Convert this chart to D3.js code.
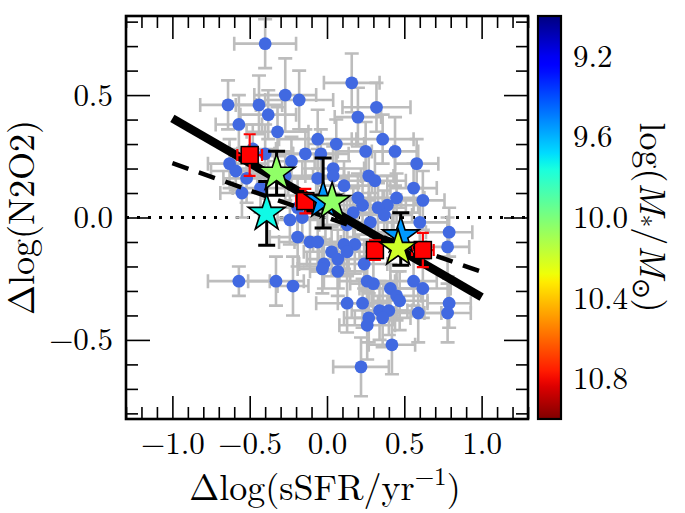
<!DOCTYPE html>
<html>
<head>
<meta charset="utf-8">
<script src="https://cdn.jsdelivr.net/npm/d3@7"></script>
<style>
  html, body { margin: 0; padding: 0; background: #fff; }
  svg { display: block; }
</style>
</head>
<body>
<script>
// ---------------- DATA ----------------
// individual galaxies (blue dots with grey error bars)
const galX = [-0.40,-0.64,-0.44,-0.27,-0.18,-0.38,-0.57,-0.32,-0.06,0.06,0.16,0.32,0.20,0.36,0.25,0.44,0.58,-0.14,-0.40,-0.23,
  -0.63,-0.59,-0.52,-0.43,-0.55,0.04,0.04,0.27,0.31,0.11,0.56,0.62,0.45,0.39,0.33,0.20,0.23,0.37,0.28,0.17,
  0.13,0.60,0.79,0.78,0.11,0.18,0.13,0.24,-0.19,-0.24,-0.16,-0.19,-0.11,-0.06,0.03,-0.02,0.07,0.07,-0.57,-0.33,
  -0.22,0.26,0.30,0.41,0.45,0.47,0.56,0.62,0.13,0.23,0.34,0.40,0.36,0.27,0.26,0.59,0.79,0.78,0.42,0.22,
  -0.48,-0.27,-0.06,-0.04,-0.03];
const galY = [0.71,0.46,0.46,0.50,0.48,0.42,0.38,0.35,0.32,0.30,0.55,0.45,0.41,0.32,0.27,0.27,0.22,0.26,0.26,0.23,
  0.22,0.19,0.16,0.12,0.10,0.20,0.17,0.17,0.15,0.13,0.12,0.07,0.08,0.05,0.04,0.08,0.05,0.01,-0.02,0.02,
  -0.03,-0.02,-0.06,-0.12,-0.11,-0.11,-0.14,-0.19,0.04,-0.01,0.00,-0.08,-0.10,-0.10,-0.14,-0.19,-0.17,-0.22,-0.26,-0.26,
  -0.28,-0.26,-0.27,-0.29,-0.32,-0.34,-0.26,-0.29,-0.35,-0.35,-0.38,-0.38,-0.41,-0.41,-0.44,-0.39,-0.35,-0.39,-0.52,-0.61,
  0.28,0.17,0.16,0.26,-0.21];
const galXErr = [0.20,0.18,0.15,0.20,0.22,0.18,0.15,0.20,0.25,0.18,0.18,0.22,0.15,0.20,0.18,0.15,0.14,0.20,0.18,0.15,
  0.14,0.16,0.15,0.18,0.14,0.20,0.18,0.16,0.20,0.18,0.15,0.14,0.18,0.20,0.18,0.16,0.20,0.18,0.15,0.20,
  0.18,0.18,0.15,0.14,0.20,0.16,0.18,0.15,0.18,0.20,0.16,0.18,0.20,0.15,0.18,0.16,0.20,0.18,0.20,0.18,
  0.10,0.18,0.15,0.20,0.16,0.18,0.15,0.18,0.20,0.16,0.18,0.15,0.18,0.16,0.18,0.15,0.14,0.15,0.15,0.18,
  0.15,0.18,0.20,0.18,0.16];
const galYErr = [0.10,0.10,0.12,0.15,0.12,0.10,0.12,0.10,0.12,0.10,0.12,0.10,0.12,0.10,0.12,0.14,0.10,0.10,0.12,0.10,
  0.10,0.08,0.10,0.10,0.10,0.10,0.12,0.10,0.12,0.10,0.10,0.12,0.10,0.12,0.10,0.10,0.12,0.10,0.12,0.10,
  0.10,0.08,0.10,0.12,0.10,0.12,0.10,0.10,0.12,0.10,0.10,0.12,0.10,0.12,0.10,0.10,0.12,0.10,0.06,0.10,
  0.12,0.10,0.12,0.10,0.10,0.12,0.10,0.12,0.12,0.10,0.12,0.10,0.12,0.10,0.14,0.12,0.10,0.12,0.12,0.12,
  0.10,0.10,0.12,0.10,0.10];

// binned medians (red squares)
const binX = [-0.50, -0.14, 0.31, 0.62];
const binY = [0.255, 0.067, -0.133, -0.133];
const binXErr = [0.08, 0.06, 0.05, 0.07];
const binYErr = [0.085, 0.05, 0.04, 0.07];

// stacked spectra (stars coloured by stellar mass)
const starX = [-0.025, 0.477, -0.39, -0.326, 0.033, 0.46];
const starY = [0.07, -0.075, 0.017, 0.181, 0.065, -0.126];
const starYErrUp = [0.173, 0.094, 0.13, 0.09, 0, 0];
const starYErrDown = [0.113, 0.12, 0.13, 0.09, 0, 0];
const starMass = [9.55, 9.55, 9.74, 10.05, 10.05, 10.2];

// fit lines
const fitSolid = { x: [-1.0, 1.0], y: [0.405, -0.325] };
const fitDashed = { x: [-1.0, 1.0], y: [0.222, -0.222] };

// axes / ticks
const xMajorTicks = [-1.0, -0.5, 0.0, 0.5, 1.0];
const yMajorTicks = [-0.5, 0.0, 0.5];
const cbTicks = [9.2, 9.6, 10.0, 10.4, 10.8];
const xDomain = [-1.3, 1.3];
const yDomain = [-0.823, 0.823];
const massDomain = [9.0, 11.0];

// ---------------- LAYOUT ----------------
const W = 685, H = 513;
const L = 126, R = 528, T = 16, B = 419;
const CBX = 538, CBW = 23;
const FONT = '"Latin Modern Roman", "CMU Serif", "Liberation Serif", serif';

const svg = d3.select("body").append("svg").attr("width", W).attr("height", H);

const x = d3.scaleLinear().domain(xDomain).range([L, R]);
const y = d3.scaleLinear().domain(yDomain).range([B, T]);

// jet colormap (matplotlib segment data)
const jetR = d3.scaleLinear().domain([0, 0.35, 0.66, 0.89, 1]).range([0, 0, 1, 1, 0.5]).clamp(true);
const jetG = d3.scaleLinear().domain([0, 0.125, 0.375, 0.64, 0.91, 1]).range([0, 0, 1, 1, 0, 0]).clamp(true);
const jetB = d3.scaleLinear().domain([0, 0.11, 0.34, 0.65, 1]).range([0.5, 1, 1, 0, 0]).clamp(true);
const jet = t => d3.rgb(jetR(t) * 255, jetG(t) * 255, jetB(t) * 255).formatHex();
const massNorm = d3.scaleLinear().domain(massDomain).range([0, 1]).clamp(true);
const massColor = m => jet(massNorm(m));

const defs = svg.append("defs");
defs.append("clipPath").attr("id", "clip")
  .append("rect").attr("x", L).attr("y", T).attr("width", R - L).attr("height", B - T);
const plot = svg.append("g").attr("clip-path", "url(#clip)");

// zero dotted line
plot.append("line")
  .attr("x1", x(xDomain[0])).attr("x2", x(xDomain[1]))
  .attr("y1", y(0)).attr("y2", y(0))
  .attr("stroke", "#000").attr("stroke-width", 3)
  .attr("stroke-dasharray", "3,8");

// grey error bars
const gal = galX.map((v, i) => ({ x: v, y: galY[i], xe: galXErr[i], ye: galYErr[i] }));
const cap = 7;
const eb = plot.append("g").attr("stroke", "#bdbdbd").attr("stroke-width", 2.6).attr("fill", "none");
gal.forEach(d => {
  const cx = x(d.x), cy = y(d.y);
  const x0 = x(d.x - d.xe), x1 = x(d.x + d.xe), y0 = y(d.y - d.ye), y1 = y(d.y + d.ye);
  eb.append("path").attr("d",
    `M${x0},${cy}H${x1}M${cx},${y0}V${y1}` +
    `M${x0},${cy - cap}V${cy + cap}M${x1},${cy - cap}V${cy + cap}` +
    `M${cx - cap},${y0}H${cx + cap}M${cx - cap},${y1}H${cx + cap}`);
});

// blue points
plot.append("g").selectAll("circle").data(gal).join("circle")
  .attr("cx", d => x(d.x)).attr("cy", d => y(d.y)).attr("r", 6.4)
  .attr("fill", "#4169e1");

// fit lines
const line = d3.line().x(d => x(d[0])).y(d => y(d[1]));
plot.append("path")
  .attr("d", line(fitDashed.x.map((v, i) => [v, fitDashed.y[i]])))
  .attr("stroke", "#000").attr("stroke-width", 4.5).attr("fill", "none")
  .attr("stroke-dasharray", "17,11");
plot.append("path")
  .attr("d", line(fitSolid.x.map((v, i) => [v, fitSolid.y[i]])))
  .attr("stroke", "#000").attr("stroke-width", 8.5).attr("fill", "none");

// red squares with error bars
const bins = binX.map((v, i) => ({ x: v, y: binY[i], xe: binXErr[i], ye: binYErr[i] }));
const rb = plot.append("g").attr("stroke", "#ff0000").attr("stroke-width", 2.2).attr("fill", "none");
const rcap = 6;
bins.forEach(d => {
  const cx = x(d.x), cy = y(d.y);
  const x0 = x(d.x - d.xe), x1 = x(d.x + d.xe), y0 = y(d.y - d.ye), y1 = y(d.y + d.ye);
  rb.append("path").attr("d",
    `M${x0},${cy}H${x1}M${cx},${y0}V${y1}` +
    `M${x0},${cy - rcap}V${cy + rcap}M${x1},${cy - rcap}V${cy + rcap}` +
    `M${cx - rcap},${y0}H${cx + rcap}M${cx - rcap},${y1}H${cx + rcap}`);
});
const sq = 17;
plot.append("g").selectAll("rect").data(bins).join("rect")
  .attr("x", d => x(d.x) - sq / 2).attr("y", d => y(d.y) - sq / 2)
  .attr("width", sq).attr("height", sq)
  .attr("fill", "#ff0000").attr("stroke", "#000").attr("stroke-width", 1.5);

// stars
const star = d3.symbol().type(d3.symbolStar).size(420);
const scap = 8.5;
starX.forEach((v, i) => {
  const cx = x(v), cy = y(starY[i]);
  if (starYErrUp[i] > 0 || starYErrDown[i] > 0) {
    const y0 = y(starY[i] - starYErrDown[i]), y1 = y(starY[i] + starYErrUp[i]);
    plot.append("path").attr("d",
      `M${cx},${y0}V${y1}M${cx - scap},${y0}H${cx + scap}M${cx - scap},${y1}H${cx + scap}`)
      .attr("stroke", "#000").attr("stroke-width", 3).attr("fill", "none");
  }
  plot.append("path").attr("d", star())
    .attr("transform", `translate(${cx},${cy})`)
    .attr("fill", massColor(starMass[i]))
    .attr("stroke", "#000").attr("stroke-width", 1.6).attr("stroke-linejoin", "miter");
});

// ---------------- AXES ----------------
const fs = 31;
function minorTicks(domain, step, majors) {
  const out = [];
  const s = Math.ceil(domain[0] / step - 1e-9), e = Math.floor(domain[1] / step + 1e-9);
  for (let k = s; k <= e; k++) {
    const v = +(k * step).toFixed(6);
    if (!majors.some(m => Math.abs(m - v) < 1e-6)) out.push(v);
  }
  return out;
}
const xMinor = minorTicks(xDomain, 0.1, xMajorTicks);
const yMinor = minorTicks(yDomain, 0.1, yMajorTicks);
const fmt = d => d3.format(".1f")(d).replace("-", "\u2212");

function styleAxis(g, showLabels) {
  g.select(".domain").remove();
  g.selectAll(".tick line").attr("stroke", "#000").attr("stroke-width", 1.6);
  if (!showLabels) g.selectAll(".tick text").remove();
  else g.selectAll(".tick text").attr("font-size", fs).style("font-family", FONT).attr("fill", "#000");
}

// bottom
svg.append("g").attr("transform", `translate(0,${B})`)
  .call(d3.axisBottom(x).tickValues(xMajorTicks).tickSize(-23).tickPadding(13).tickFormat(fmt))
  .call(g => styleAxis(g, true));
svg.append("g").attr("transform", `translate(0,${B})`)
  .call(d3.axisBottom(x).tickValues(xMinor).tickSize(-12).tickFormat(""))
  .call(g => styleAxis(g, false));
// top
svg.append("g").attr("transform", `translate(0,${T})`)
  .call(d3.axisTop(x).tickValues(xMajorTicks).tickSize(-23).tickFormat(""))
  .call(g => styleAxis(g, false));
svg.append("g").attr("transform", `translate(0,${T})`)
  .call(d3.axisTop(x).tickValues(xMinor).tickSize(-12).tickFormat(""))
  .call(g => styleAxis(g, false));
// left
svg.append("g").attr("transform", `translate(${L},0)`)
  .call(d3.axisLeft(y).tickValues(yMajorTicks).tickSize(-24).tickPadding(13).tickFormat(fmt))
  .call(g => styleAxis(g, true));
svg.append("g").attr("transform", `translate(${L},0)`)
  .call(d3.axisLeft(y).tickValues(yMinor).tickSize(-12).tickFormat(""))
  .call(g => styleAxis(g, false));
// right
svg.append("g").attr("transform", `translate(${R},0)`)
  .call(d3.axisRight(y).tickValues(yMajorTicks).tickSize(-24).tickFormat(""))
  .call(g => styleAxis(g, false));
svg.append("g").attr("transform", `translate(${R},0)`)
  .call(d3.axisRight(y).tickValues(yMinor).tickSize(-12).tickFormat(""))
  .call(g => styleAxis(g, false));

// frame
svg.append("rect").attr("x", L).attr("y", T).attr("width", R - L).attr("height", B - T)
  .attr("fill", "none").attr("stroke", "#000").attr("stroke-width", 2.6);

// axis labels
const lfs = 36;
const xl = svg.append("text").attr("x", 325).attr("y", 500)
  .attr("text-anchor", "middle").attr("font-size", lfs).style("font-family", FONT);
xl.append("tspan").text("\u0394log(sSFR/yr");
xl.append("tspan").attr("dy", -15).attr("font-size", 25).text("\u22121");
xl.append("tspan").attr("dy", 15).text(")");

svg.append("text").attr("transform", `translate(34,${(T + B) / 2}) rotate(-90)`)
  .attr("text-anchor", "middle").attr("font-size", lfs).style("font-family", FONT)
  .text("\u0394log(N2O2)");

// ---------------- COLORBAR ----------------
const cbY = d3.scaleLinear().domain(massDomain).range([T, B]);
const grad = defs.append("linearGradient").attr("id", "jetgrad")
  .attr("x1", 0).attr("y1", 0).attr("x2", 0).attr("y2", 1);
d3.range(0, 1.0001, 0.02).forEach(t => {
  grad.append("stop").attr("offset", t).attr("stop-color", jet(t));
});
svg.append("rect").attr("x", CBX).attr("y", T).attr("width", CBW).attr("height", B - T)
  .attr("fill", "url(#jetgrad)").attr("stroke", "#000").attr("stroke-width", 2.2);

svg.append("g").selectAll("text").data(cbTicks).join("text")
  .attr("x", CBX + CBW + 12).attr("y", d => cbY(d)).attr("dy", "0.34em")
  .attr("font-size", fs).style("font-family", FONT).text(d => d.toFixed(1));

const cl = svg.append("text").attr("transform", `translate(640,${(T + B) / 2}) rotate(90)`)
  .attr("text-anchor", "middle").attr("font-size", lfs).style("font-family", FONT);
cl.append("tspan").text("log(");
cl.append("tspan").attr("font-style", "italic").text("M");
cl.append("tspan").attr("dy", 7).attr("font-size", 25).text("*");
cl.append("tspan").attr("dy", -7).text("/");
cl.append("tspan").attr("font-style", "italic").text("M");
cl.append("tspan").attr("dy", 7).attr("font-size", 25).text("\u2299");
cl.append("tspan").attr("dy", -7).text(")");
</script>
</body>
</html>
